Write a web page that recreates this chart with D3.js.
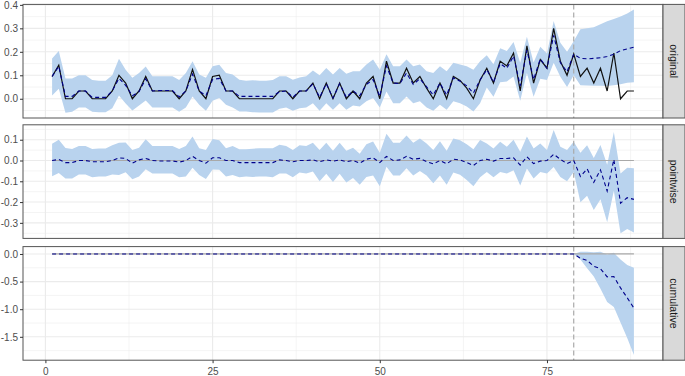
<!DOCTYPE html>
<html>
<head>
<meta charset="utf-8">
<script src="https://cdn.jsdelivr.net/npm/d3@7"></script>
<style>
	body { margin: 0; background: #fff; }
	text { font-family: "Liberation Sans", Arial, sans-serif; }
</style>
</head>
<body>
<svg id="chart" width="685" height="376"></svg>
<script>
// time index of the series
const time = d3.range(1, 89);
// observed response
const response = [
	0.095,0.143,0,0,0.033,0.033,0,0,0,0.033,
	0.1,0.067,0,0.033,0.095,0.033,0.033,0.033,0.033,0,
	0.033,0.125,0.033,0,0.095,0.1,0.033,0.033,0,0,
	0,0,0,0,0.033,0.033,0,0.033,0.033,0.067,
	0,0.067,0,0.067,0,0.033,0,0.067,0.095,0,
	0.16,0.067,0.067,0.13,0.067,0.095,0.045,0,0.067,0,
	0.095,0.078,0.045,0,0.08,0.13,0.067,0.16,0.14,0.195,
	0.033,0.225,0.067,0.167,0.13,0.3,0.16,0.1,0.19,0.095,
	0.13,0.067,0.13,0.033,0.195,0,0.033,0.033
];
// counterfactual prediction and its interval
const predicted = [
	0.095,0.138,0.01,0.01,0.033,0.033,0.006,0.006,0.006,0.033,
	0.087,0.057,0.013,0.03,0.085,0.033,0.035,0.035,0.035,0.008,
	0.033,0.105,0.033,0.013,0.082,0.087,0.033,0.033,0.01,0.01,
	0.01,0.01,0.01,0.01,0.03,0.033,0.006,0.033,0.033,0.064,
	0.006,0.064,0.003,0.064,0.006,0.033,0.013,0.061,0.082,0.01,
	0.14,0.067,0.064,0.11,0.061,0.085,0.051,0.016,0.067,0.016,
	0.089,0.075,0.055,0.024,0.08,0.124,0.07,0.15,0.13,0.182,
	0.055,0.207,0.082,0.17,0.13,0.27,0.154,0.115,0.19,0.172,
	0.17,0.172,0.175,0.18,0.19,0.205,0.212,0.22
];
const predUpper = [
	0.171,0.203,0.086,0.086,0.1,0.1,0.08,0.077,0.077,0.1,
	0.17,0.124,0.09,0.11,0.137,0.096,0.096,0.096,0.096,0.08,
	0.11,0.16,0.103,0.089,0.138,0.145,0.11,0.103,0.081,0.077,
	0.079,0.077,0.077,0.08,0.096,0.096,0.081,0.091,0.096,0.12,
	0.1,0.131,0.103,0.131,0.106,0.117,0.117,0.146,0.167,0.124,
	0.19,0.139,0.139,0.167,0.139,0.146,0.117,0.11,0.139,0.117,
	0.153,0.146,0.139,0.124,0.16,0.185,0.147,0.215,0.203,0.242,
	0.153,0.264,0.154,0.222,0.193,0.331,0.239,0.2,0.245,0.296,
	0.3,0.305,0.317,0.33,0.34,0.35,0.363,0.38
];
const predLower = [
	0.014,0.043,-0.06,-0.055,-0.037,-0.037,-0.055,-0.058,-0.058,-0.04,
	0.014,-0.02,-0.05,-0.029,-0.007,-0.037,-0.037,-0.037,-0.037,-0.055,
	-0.037,0.01,-0.026,-0.051,-0.009,0.003,-0.026,-0.037,-0.054,-0.054,
	-0.057,-0.059,-0.059,-0.059,-0.043,-0.037,-0.051,-0.04,-0.037,-0.019,
	-0.051,-0.019,-0.047,-0.019,-0.047,-0.029,-0.033,-0.011,0.003,-0.037,
	0.031,-0.019,-0.019,0.01,-0.019,-0.011,-0.037,-0.051,-0.026,-0.047,
	-0.011,-0.019,-0.033,-0.054,-0.019,0.048,0.009,0.07,0.074,0.095,
	-0.009,0.11,0.009,0.085,0.08,0.153,0.094,0.05,0.1,0.058,
	0.056,0.055,0.055,0.054,0.058,0.062,0.068,0.07
];
const postStart = 80; // first point of the post period
// cumulative effect interval, post period only (80..88)
const cumUpperPost = [0.04,0.04,0.03,0.04,-0.01,0.02,-0.1,-0.2,-0.25];
const cumLowerPost = [-0.1,-0.26,-0.41,-0.63,-0.87,-0.96,-1.24,-1.52,-1.83];

const panelNames = ['original', 'pointwise', 'cumulative'];
const xTicks = [0, 25, 50, 75];
const yTicks = [[0, 0.1, 0.2, 0.3, 0.4], [-0.3, -0.2, -0.1, 0, 0.1], [-1.5, -1, -0.5, 0]];

// series per panel
const original = time.map((t, i) => ({t, y: response[i], mean: predicted[i], lo: predLower[i], hi: predUpper[i]}));
const pointwise = time.map((t, i) => ({t, mean: response[i] - predicted[i], lo: response[i] - predUpper[i], hi: response[i] - predLower[i]}));
let run = 0;
const cumulative = time.map((t, i) => {
	if(t < postStart) return {t, mean: 0, lo: 0, hi: 0};
	run += pointwise[i].mean;
	return {t, mean: run, lo: cumLowerPost[t - postStart], hi: cumUpperPost[t - postStart]};
});
const series = [original, pointwise, cumulative];

const svg = d3.select('svg#chart');
const left = 23, right = 663, stripW = 22, panelH = 113.6, panelTops = [4.4, 124.8, 246.6];

const expand = ([a, b]) => [a - (b - a) * 0.05, b + (b - a) * 0.05];
const x = d3.scaleLinear(expand(d3.extent(time)), [left, right]);
const xMinor = [12.5, 37.5, 62.5, 87.5];

series.forEach((data, p) => {
	const top = panelTops[p], bottom = top + panelH;
	const y = d3.scaleLinear(expand([d3.min(data, d => d.lo), d3.max(data, d => Math.max(d.hi, d.y ?? d.hi))]), [bottom, top]);
	const ticks = yTicks[p], step = ticks[1] - ticks[0];
	const minor = [ticks[0] - step / 2, ...ticks.map(v => v + step / 2)].filter(v => v > y.domain()[0] && v < y.domain()[1]);
	const g = svg.append('g');

	g.append('clipPath').attr('id', 'clip' + p)
		.append('rect').attr('x', left).attr('y', top).attr('width', right - left).attr('height', panelH);

	// grid
	const grid = g.append('g').attr('stroke', '#ebebeb');
	grid.selectAll('.ymin').data(minor).join('line')
		.attr('x1', left).attr('x2', right).attr('y1', y).attr('y2', y).attr('stroke-width', 0.55);
	grid.selectAll('.xmin').data(xMinor).join('line')
		.attr('y1', top).attr('y2', bottom).attr('x1', x).attr('x2', x).attr('stroke-width', 0.55);
	grid.selectAll('.ymaj').data(ticks).join('line')
		.attr('x1', left).attr('x2', right).attr('y1', y).attr('y2', y).attr('stroke-width', 1.1);
	grid.selectAll('.xmaj').data(xTicks).join('line')
		.attr('y1', top).attr('y2', bottom).attr('x1', x).attr('x2', x).attr('stroke-width', 1.1);

	const body = g.append('g').attr('clip-path', `url(#clip${p})`);
	body.append('path').datum(data)
		.attr('fill', '#b9d3ee')
		.attr('d', d3.area().x(d => x(d.t)).y0(d => y(d.lo)).y1(d => y(d.hi)));
	if(p > 0) {
		body.append('line')
			.attr('x1', x(time[0])).attr('x2', x(time[time.length - 1]))
			.attr('y1', y(0)).attr('y2', y(0))
			.attr('stroke', '#a9a9a9').attr('stroke-width', 1.2);
	}
	body.append('line')
		.attr('x1', x(postStart - 1)).attr('x2', x(postStart - 1))
		.attr('y1', top).attr('y2', bottom)
		.attr('stroke', '#a9a9a9').attr('stroke-width', 1.2).attr('stroke-dasharray', '5,3');
	if(p === 0) {
		body.append('path').datum(data)
			.attr('fill', 'none').attr('stroke', '#111').attr('stroke-width', 1.2)
			.attr('d', d3.line().x(d => x(d.t)).y(d => y(d.y)));
	}
	body.append('path').datum(data)
		.attr('fill', 'none').attr('stroke', '#00008b').attr('stroke-width', 1.1)
		.attr('stroke-dasharray', '4,3')
		.attr('d', d3.line().x(d => x(d.t)).y(d => y(d.mean)));

	g.append('rect')
		.attr('x', left).attr('y', top).attr('width', right - left).attr('height', panelH)
		.attr('fill', 'none').attr('stroke', '#555').attr('stroke-width', 1);

	// strip
	g.append('rect')
		.attr('x', right).attr('y', top).attr('width', stripW).attr('height', panelH)
		.attr('fill', '#d9d9d9').attr('stroke', '#555').attr('stroke-width', 1);
	g.append('text')
		.attr('transform', `translate(${right + stripW / 2},${top + panelH / 2}) rotate(90)`)
		.attr('text-anchor', 'middle').attr('dy', '0.35em')
		.attr('font-size', 10.5).attr('fill', '#1a1a1a')
		.text(panelNames[p]);

	// y axis
	const ax = g.append('g').attr('transform', `translate(${left},0)`)
		.call(d3.axisLeft(y).tickValues(ticks).tickSize(3).tickPadding(2).tickFormat(d => d.toFixed(1)));
	ax.select('.domain').remove();
	ax.selectAll('line').attr('stroke', '#333');
	ax.selectAll('text').attr('fill', '#4d4d4d').attr('font-size', 10).attr('font-family', '"Liberation Sans", Arial, sans-serif');

	if(p === series.length - 1) {
		const bx = g.append('g').attr('transform', `translate(0,${bottom})`)
			.call(d3.axisBottom(x).tickValues(xTicks).tickSize(3).tickPadding(5).tickFormat(d3.format('d')));
		bx.select('.domain').remove();
		bx.selectAll('line').attr('stroke', '#333');
		bx.selectAll('text').attr('fill', '#4d4d4d').attr('font-size', 10).attr('font-family', '"Liberation Sans", Arial, sans-serif');
	}
});
</script>
</body>
</html>
